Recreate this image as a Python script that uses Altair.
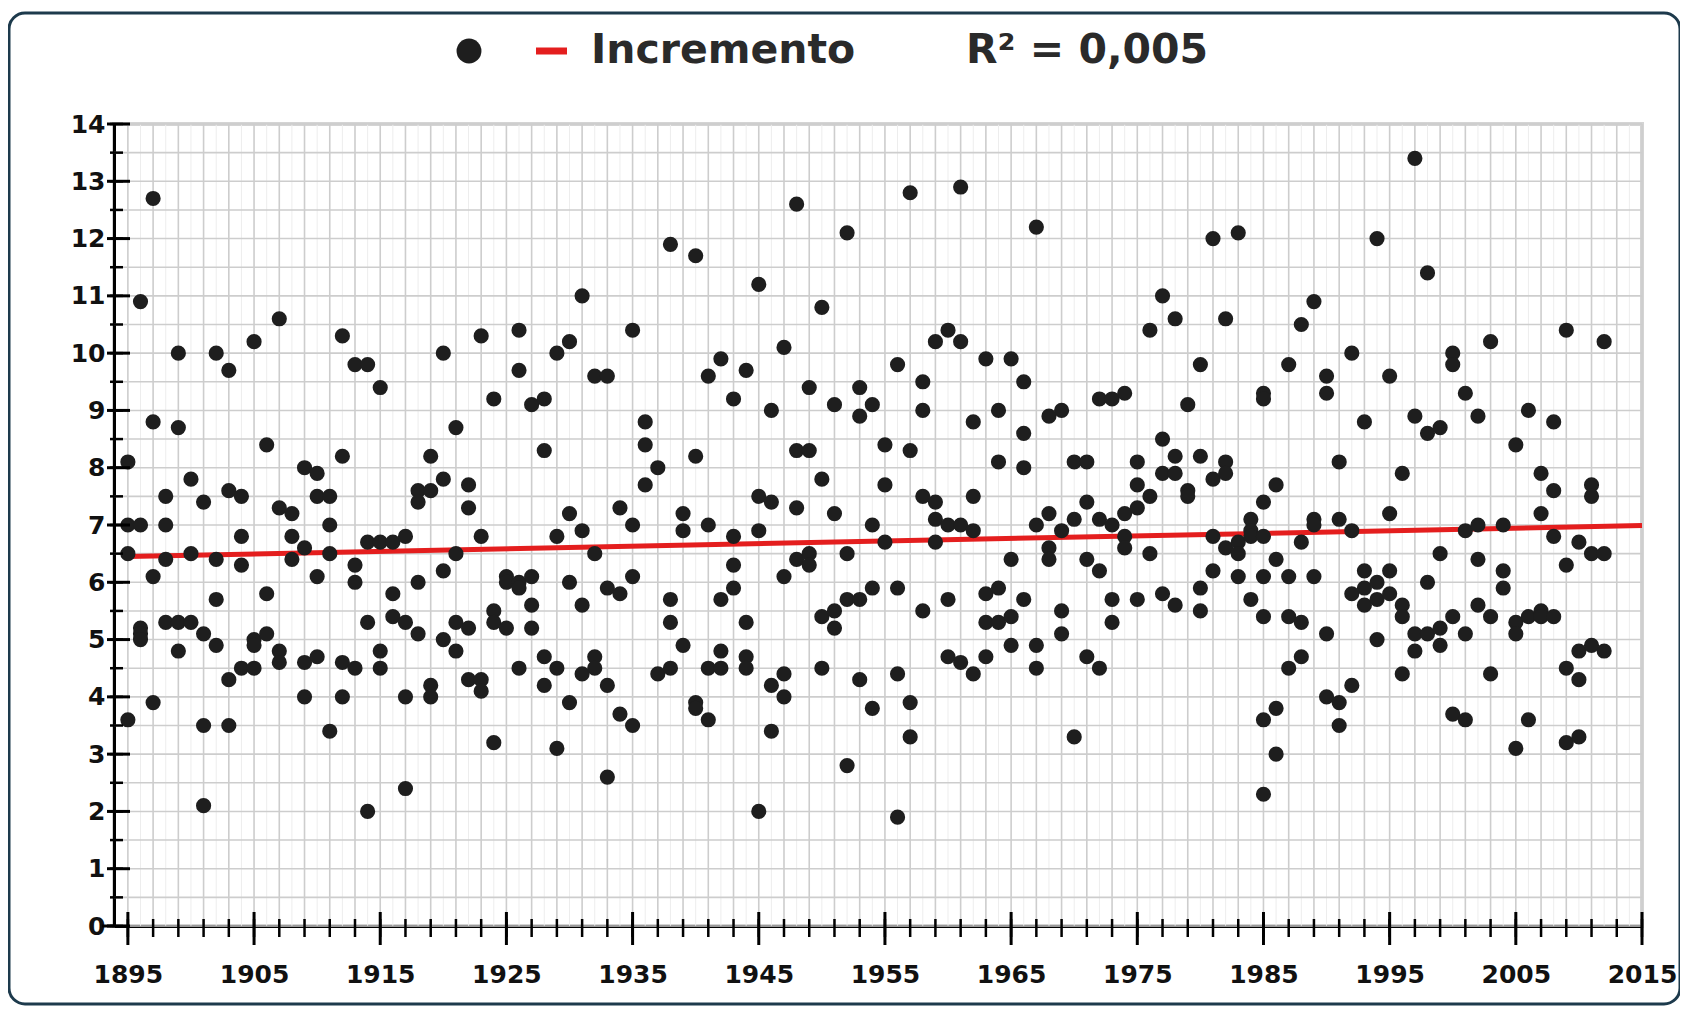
import altair as alt
import pandas as pd

# ---------------- data ----------------
first_year = 1895
values_by_year = [
    [8.1, 7.0, 6.5, 3.6],            # 1895
    [10.9, 7.0, 5.2, 5.1, 5.0],      # 1896
    [12.7, 8.8, 6.1, 3.9],           # 1897
    [7.5, 7.0, 6.4, 5.3],            # 1898
    [10.0, 8.7, 5.3, 4.8],           # 1899
    [7.8, 6.5, 5.3],                 # 1900
    [7.4, 5.1, 3.5, 2.1],            # 1901
    [10.0, 6.4, 5.7, 4.9],           # 1902
    [9.7, 7.6, 4.3, 3.5],            # 1903
    [7.5, 6.8, 6.3, 4.5],            # 1904
    [10.2, 5.0, 4.9, 4.5],           # 1905
    [8.4, 5.8, 5.1],                 # 1906
    [10.6, 7.3, 4.8, 4.6],           # 1907
    [7.2, 6.8, 6.4],                 # 1908
    [8.0, 6.6, 4.6, 4.0],            # 1909
    [7.9, 7.5, 6.1, 4.7],            # 1910
    [7.5, 7.0, 6.5, 3.4],            # 1911
    [10.3, 8.2, 4.6, 4.0],           # 1912
    [9.8, 6.3, 6.0, 4.5],            # 1913
    [9.8, 6.7, 5.3, 2.0],            # 1914
    [9.4, 6.7, 4.8, 4.5],            # 1915
    [6.7, 5.8, 5.4],                 # 1916
    [6.8, 5.3, 4.0, 2.4],            # 1917
    [7.6, 7.4, 6.0, 5.1],            # 1918
    [8.2, 7.6, 4.2, 4.0],            # 1919
    [10.0, 7.8, 6.2, 5.0],           # 1920
    [8.7, 6.5, 5.3, 4.8],            # 1921
    [7.7, 7.3, 5.2, 4.3],            # 1922
    [10.3, 6.8, 4.3, 4.1],           # 1923
    [9.2, 5.5, 5.3, 3.2],            # 1924
    [6.1, 6.0, 5.2],                 # 1925
    [10.4, 9.7, 6.0, 5.9, 4.5],      # 1926
    [9.1, 6.1, 5.6, 5.2],            # 1927
    [9.2, 8.3, 4.7, 4.2],            # 1928
    [10.0, 6.8, 4.5, 3.1],           # 1929
    [10.2, 7.2, 6.0, 3.9],           # 1930
    [11.0, 6.9, 5.6, 4.4],           # 1931
    [9.6, 6.5, 4.7, 4.5],            # 1932
    [9.6, 5.9, 4.2, 2.6],            # 1933
    [7.3, 5.8, 3.7],                 # 1934
    [10.4, 7.0, 6.1, 3.5],           # 1935
    [8.8, 8.4, 7.7],                 # 1936
    [8.0, 4.4],                      # 1937
    [11.9, 5.7, 5.3, 4.5],           # 1938
    [7.2, 6.9, 4.9],                 # 1939
    [11.7, 8.2, 3.9, 3.8],           # 1940
    [9.6, 7.0, 4.5, 3.6],            # 1941
    [9.9, 5.7, 4.8, 4.5],            # 1942
    [9.2, 6.8, 6.3, 5.9],            # 1943
    [9.7, 5.3, 4.7, 4.5],            # 1944
    [11.2, 7.5, 6.9, 2.0],           # 1945
    [9.0, 7.4, 4.2, 3.4],            # 1946
    [10.1, 6.1, 4.4, 4.0],           # 1947
    [12.6, 8.3, 7.3, 6.4],           # 1948
    [9.4, 8.3, 6.5, 6.3],            # 1949
    [10.8, 7.8, 5.4, 4.5],           # 1950
    [9.1, 7.2, 5.5, 5.2],            # 1951
    [12.1, 6.5, 5.7, 2.8],           # 1952
    [9.4, 8.9, 5.7, 4.3],            # 1953
    [9.1, 7.0, 5.9, 3.8],            # 1954
    [8.4, 7.7, 6.7],                 # 1955
    [9.8, 5.9, 4.4, 1.9],            # 1956
    [12.8, 8.3, 3.9, 3.3],           # 1957
    [9.5, 9.0, 7.5, 5.5],            # 1958
    [10.2, 7.4, 7.1, 6.7],           # 1959
    [10.4, 7.0, 5.7, 4.7],           # 1960
    [12.9, 10.2, 7.0, 4.6],          # 1961
    [8.8, 7.5, 6.9, 4.4],            # 1962
    [9.9, 5.8, 5.3, 4.7],            # 1963
    [9.0, 8.1, 5.9, 5.3],            # 1964
    [9.9, 6.4, 5.4, 4.9],            # 1965
    [9.5, 8.6, 8.0, 5.7],            # 1966
    [12.2, 7.0, 4.9, 4.5],           # 1967
    [8.9, 7.2, 6.6, 6.4],            # 1968
    [9.0, 6.9, 5.5, 5.1],            # 1969
    [8.1, 7.1, 3.3],                 # 1970
    [8.1, 7.4, 6.4, 4.7],            # 1971
    [9.2, 7.1, 6.2, 4.5],            # 1972
    [9.2, 7.0, 5.7, 5.3],            # 1973
    [9.3, 7.2, 6.8, 6.6],            # 1974
    [8.1, 7.7, 7.3, 5.7],            # 1975
    [10.4, 7.5, 6.5],                # 1976
    [11.0, 8.5, 7.9, 5.8],           # 1977
    [10.6, 8.2, 7.9, 5.6],           # 1978
    [9.1, 7.6, 7.5],                 # 1979
    [9.8, 8.2, 5.9, 5.5],            # 1980
    [12.0, 7.8, 6.8, 6.2],           # 1981
    [10.6, 8.1, 7.9, 6.6],           # 1982
    [12.1, 6.7, 6.5, 6.1],           # 1983
    [7.1, 6.9, 6.8, 5.7],            # 1984
    [9.3, 9.2, 7.4, 6.8, 6.1, 5.4, 3.6, 2.3],  # 1985
    [7.7, 6.4, 3.8, 3.0],            # 1986
    [9.8, 6.1, 5.4, 4.5],            # 1987
    [10.5, 6.7, 5.3, 4.7],           # 1988
    [10.9, 7.1, 7.0, 6.1],           # 1989
    [9.6, 9.3, 5.1, 4.0],            # 1990
    [8.1, 7.1, 3.9, 3.5],            # 1991
    [10.0, 6.9, 5.8, 4.2],           # 1992
    [8.8, 6.2, 5.9, 5.6],            # 1993
    [12.0, 6.0, 5.7, 5.0],           # 1994
    [9.6, 7.2, 6.2, 5.8],            # 1995
    [7.9, 5.6, 5.4, 4.4],            # 1996
    [13.4, 8.9, 5.1, 4.8],           # 1997
    [11.4, 8.6, 6.0, 5.1],           # 1998
    [8.7, 6.5, 5.2, 4.9],            # 1999
    [10.0, 9.8, 5.4, 3.7],           # 2000
    [9.3, 6.9, 5.1, 3.6],            # 2001
    [8.9, 7.0, 6.4, 5.6],            # 2002
    [10.2, 5.4, 4.4],                # 2003
    [7.0, 6.2, 5.9],                 # 2004
    [8.4, 5.3, 5.1, 3.1],            # 2005
    [9.0, 5.4, 3.6],                 # 2006
    [7.9, 7.2, 5.5, 5.4],            # 2007
    [8.8, 7.6, 6.8, 5.4],            # 2008
    [10.4, 6.3, 4.5, 3.2],           # 2009
    [6.7, 4.8, 4.3, 3.3],            # 2010
    [7.7, 7.5, 6.5, 4.9],            # 2011
    [10.2, 6.5, 4.8],                # 2012
]

trend_years = [1895, 2015]
trend_values = [6.45, 6.99]

x_label_years = list(range(1895, 2016, 10))
x_minor_years = list(range(1895, 2016, 2))
x_faint_years = list(range(1896, 2016, 2))
y_label_values = list(range(0, 15))
y_minor_values = [v / 2 for v in range(0, 29)]

legend_label = "Incremento"
r2_label = "R² = 0,005"

# ---------------- tables ----------------
obs_years, obs_values = [], []
for i, vals in enumerate(values_by_year):
    for v in vals:
        obs_years.append(first_year + i)
        obs_values.append(v)
points_df = pd.DataFrame({"year": obs_years, "value": obs_values})
trend_df = pd.DataFrame({"year": trend_years, "value": trend_values})
one = pd.DataFrame({"k": [0]})

W, H = 1528, 802
FONT = "DejaVu Sans"
xs = alt.Scale(domain=[1893.9, 2015], nice=False, zero=False)
ys = alt.Scale(domain=[0, 14], nice=False, zero=True)

def vrules(vals, color, width):
    return alt.Chart(pd.DataFrame({"x": vals})).mark_rule(color=color, strokeWidth=width).encode(
        x=alt.X("x:Q", scale=xs, axis=None))

def hrules(vals, color, width):
    return alt.Chart(pd.DataFrame({"y": vals})).mark_rule(color=color, strokeWidth=width).encode(
        y=alt.Y("y:Q", scale=ys, axis=None))

grid_faint_v = vrules(x_faint_years, "#ededed", 1)
grid_v = vrules(x_minor_years, "#cdcdcd", 1.6)
grid_h = hrules(y_minor_values, "#cdcdcd", 1.6)

trend = alt.Chart(trend_df).mark_line(color="#e41e1e", strokeWidth=5).encode(
    x=alt.X("year:Q", scale=xs, axis=None),
    y=alt.Y("value:Q", scale=ys, axis=None),
)

points = alt.Chart(points_df).mark_circle(size=230, color="#1e1e1e", opacity=1).encode(
    x=alt.X("year:Q", scale=xs, title=None,
            axis=alt.Axis(orient="bottom", values=x_label_years, format="d", ticks=False, grid=False,
                          domainColor="black", domainWidth=3,
                          labelFont=FONT, labelFontWeight="bold", labelFontSize=25,
                          labelColor="#111111", labelPadding=36, labelFlush=False,
                          labelOverlap=False)),
    y=alt.Y("value:Q", scale=ys, title=None,
            axis=alt.Axis(orient="left", values=y_label_values, format="d", ticks=False, grid=False,
                          domainColor="black", domainWidth=3,
                          labelFont=FONT, labelFontWeight="bold", labelFontSize=25,
                          labelColor="#111111", labelPadding=9, labelFlush=False,
                          labelOverlap=False)),
)

# axis ticks crossing the axis lines
xt_major = alt.Chart(pd.DataFrame({"x": x_label_years})).mark_rule(color="black", strokeWidth=3).encode(
    x=alt.X("x:Q", scale=xs, axis=None), y=alt.value(H - 14), y2=alt.value(H + 19))
xt_minor = alt.Chart(pd.DataFrame({"x": x_minor_years})).mark_rule(color="black", strokeWidth=2.5).encode(
    x=alt.X("x:Q", scale=xs, axis=None), y=alt.value(H - 7), y2=alt.value(H + 11))
yt_major = alt.Chart(pd.DataFrame({"y": y_label_values})).mark_rule(color="black", strokeWidth=3).encode(
    y=alt.Y("y:Q", scale=ys, axis=None), x=alt.value(-7), x2=alt.value(16))
yt_minor = alt.Chart(pd.DataFrame({"y": y_minor_values})).mark_rule(color="black", strokeWidth=2.5).encode(
    y=alt.Y("y:Q", scale=ys, axis=None), x=alt.value(-4), x2=alt.value(9))
x_axis_ext = alt.Chart(one).mark_rule(color="black", strokeWidth=3).encode(
    x=alt.value(-12), x2=alt.value(0), y=alt.value(H))

# legend / header
leg_dot = alt.Chart(one).mark_point(filled=True, shape="circle", size=620, color="#1e1e1e", opacity=1).encode(
    x=alt.value(355), y=alt.value(-73))
leg_line = alt.Chart(one).mark_rule(color="#e41e1e", strokeWidth=7).encode(
    x=alt.value(422), x2=alt.value(453), y=alt.value(-73))
leg_text = alt.Chart(one).mark_text(text=legend_label, font=FONT, fontWeight="bold", fontSize=41,
                                    color="#2a2a2a", align="left", baseline="middle").encode(
    x=alt.value(477), y=alt.value(-73))
r2_text = alt.Chart(one).mark_text(text=r2_label, font=FONT, fontWeight="bold", fontSize=41,
                                   color="#2a2a2a", align="left", baseline="middle").encode(
    x=alt.value(852), y=alt.value(-73))

# outer rounded frame
frame = alt.Chart(one).mark_rect(fillOpacity=0, stroke="#1d3a4c", strokeWidth=3, cornerRadius=16).encode(
    x=alt.value(-105), x2=alt.value(1566), y=alt.value(-111), y2=alt.value(880))

chart = alt.layer(
    grid_faint_v, grid_v, grid_h,
    trend, points,
    xt_major, xt_minor, yt_major, yt_minor, x_axis_ext,
    leg_dot, leg_line, leg_text, r2_text, frame,
).resolve_axis(
    x="independent", y="independent"
).properties(
    width=W, height=H,
    autosize=alt.AutoSizeParams(type="none"),
    padding={"left": 106, "top": 116, "right": 38, "bottom": 80},
    background="white",
).configure_view(
    stroke="#d4d4d4", strokeWidth=4
)

chart.save("out.html", embed_options={"renderer": "svg", "actions": False})
